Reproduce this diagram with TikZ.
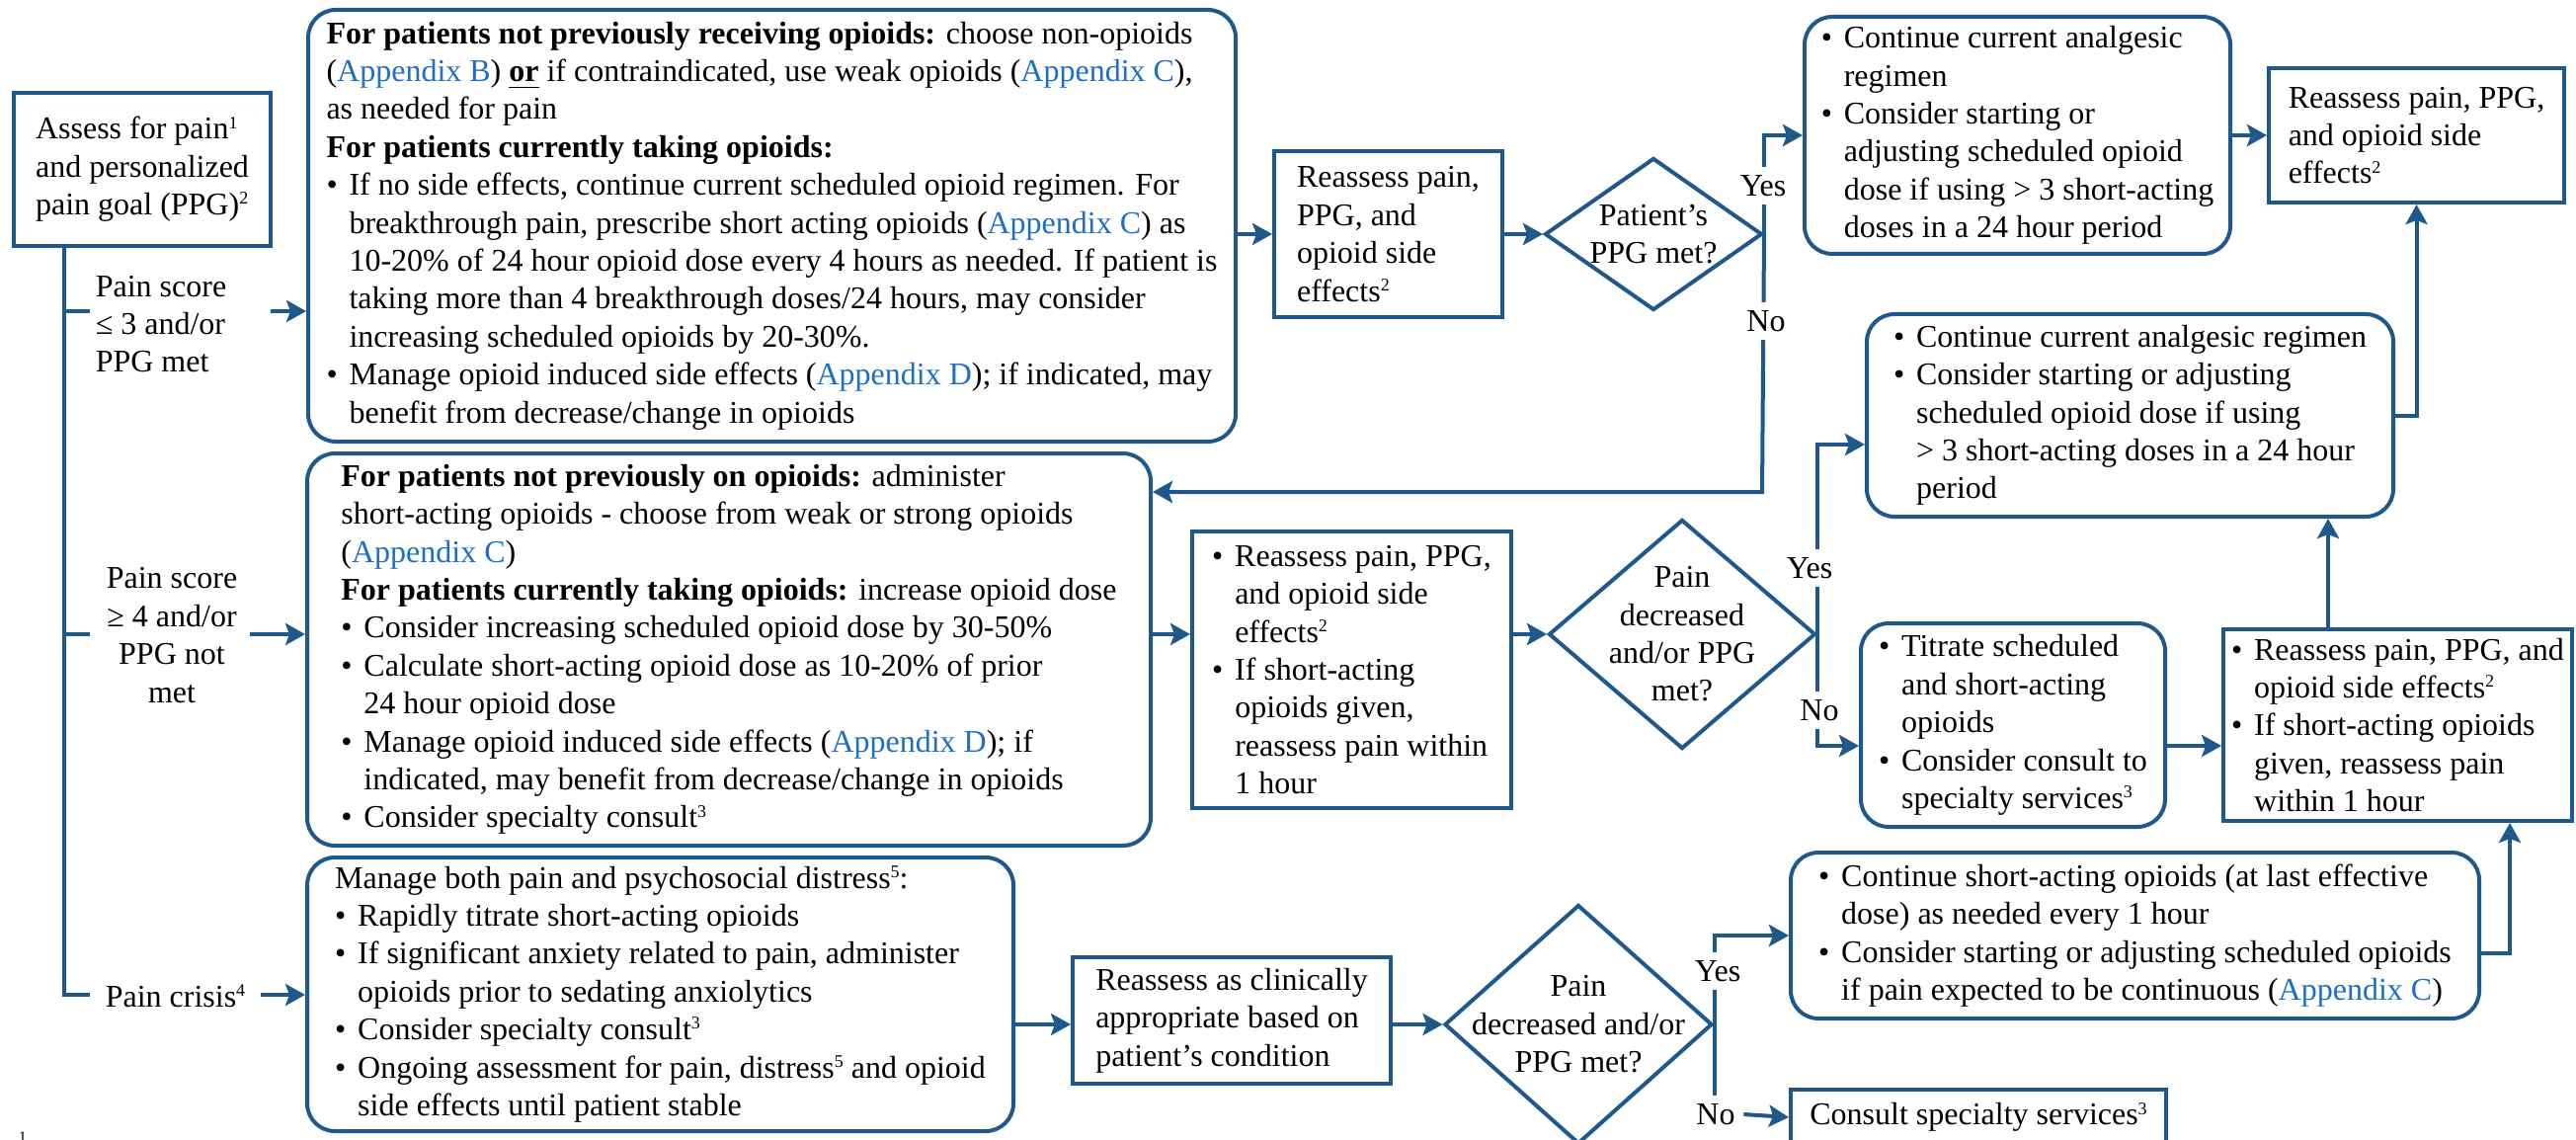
\documentclass[tikz,border=0pt]{standalone}
\usepackage{fontspec}
\setmainfont{Liberation Serif}
\usepackage{tikz}
\usetikzlibrary{arrows.meta,shapes.geometric}
\definecolor{flowblue}{RGB}{31,89,139}
\definecolor{applink}{RGB}{30,110,200}
\tikzstyle{stepbox}=[rectangle, draw=flowblue, line width=1pt, align=left, inner sep=2pt]
\tikzstyle{roundbox}=[stepbox, rounded corners=7pt]
\tikzstyle{decide}=[diamond, draw=flowblue, line width=1pt, inner sep=0pt]
\tikzstyle{flowline}=[draw=flowblue, line width=1pt]
\tikzstyle{flowarrow}=[flowline, -{Stealth[length=5pt,width=5.5pt,inset=1pt]}]
\tikzstyle{branch}=[inner sep=0pt]
\tikzstyle{yesno}=[fill=white, inner sep=2pt]
\newcommand{\stepbox}{\node[stepbox]}
\newcommand{\roundbox}{\node[roundbox]}
\newcommand{\decide}{\node[decide]}
\newcommand{\bitem}{\makebox[0.72em][l]{\textbullet}}
\newcommand{\bcont}{\hspace*{0.72em}}
\newcommand{\appx}[1]{\textcolor{applink}{#1}}
\newcommand{\fnote}[1]{\raisebox{2.7pt}{\fontsize{4.5pt}{4.5pt}\selectfont #1}}

\begin{document}
\begin{tikzpicture}[x=0.25pt, y=-0.25pt
    ,font=\fontsize{8pt}{9.6pt}\selectfont
    ,every edge/.style={flowarrow}
]
\useasboundingbox (0,0) rectangle (2608,1154);

% left column
\stepbox[minimum width=65pt, minimum height=38.75pt] (assess) at (144,171.5)
  {Assess for pain\fnote{1}\\and personalized\\pain goal (PPG)\fnote{2}};
\node[branch, anchor=west, align=left] (low) at (96,328) {Pain score\\≤ 3 and/or\\PPG met};
\node[branch, align=center] (high) at (174,643) {Pain score\\≥ 4 and/or\\PPG not\\met};
\node[branch, anchor=west] (crisis) at (106,1008) {Pain crisis\fnote{4}};
\coordinate (b1) at (65,315);
\coordinate (b2) at (65,642);
\coordinate (b3) at (65,1007);
\coordinate (a1) at (274,315);
\coordinate (a2) at (253,642);
\coordinate (a3) at (264,1007);
\coordinate (n1) at (1784,498);

% row 1: pain score <= 3
\roundbox[minimum width=234.75pt, minimum height=109.25pt] (mild) at (781.5,228.5)
  {\textbf{For patients not previously receiving opioids:} choose non-opioids\\
   (\appx{Appendix B}) \textbf{\underline{or}} if contraindicated, use weak opioids (\appx{Appendix C}),\\
   as needed for pain\\
   \textbf{For patients currently taking opioids:}\\
   \bitem If no side effects, continue current scheduled opioid regimen. For\\
   \bcont breakthrough pain, prescribe short acting opioids (\appx{Appendix C}) as\\
   \bcont 10-20\% of 24 hour opioid dose every 4 hours as needed. If patient is\\
   \bcont taking more than 4 breakthrough doses/24 hours, may consider\\
   \bcont increasing scheduled opioids by 20-30\%.\\
   \bitem Manage opioid induced side effects (\appx{Appendix D}); if indicated, may\\
   \bcont benefit from decrease/change in opioids};
\stepbox[minimum width=57.75pt, minimum height=42pt] (re1) at (1405.5,237)
  {Reassess pain,\\PPG, and\\opioid side\\effects\fnote{2}};
\decide[minimum width=55pt, minimum height=38.5pt,
  label={[align=center]center:Patient’s\\PPG met?}] (d1) at (1674,237) {};
\roundbox[minimum width=107.75pt, minimum height=60pt] (keep1) at (2042.5,137)
  {\bitem Continue current analgesic\\
   \bcont regimen\\
   \bitem Consider starting or\\
   \bcont adjusting scheduled opioid\\
   \bcont dose if using > 3 short-acting\\
   \bcont doses in a 24 hour period};
\stepbox[minimum width=74.75pt, minimum height=34pt] (re2) at (2446.5,137)
  {Reassess pain, PPG,\\and opioid side\\effects\fnote{2}};
\roundbox[minimum width=133.25pt, minimum height=51.25pt] (keep2) at (2156.5,420.5)
  {\bitem Continue current analgesic regimen\\
   \bitem Consider starting or adjusting\\
   \bcont scheduled opioid dose if using\\
   \bcont > 3 short-acting doses in a 24 hour\\
   \bcont period};

% row 2: pain score >= 4
\roundbox[minimum width=213.5pt, minimum height=99.25pt] (severe) at (738,657.5)
  {\textbf{For patients not previously on opioids:} administer\\
   short-acting opioids - choose from weak or strong opioids\\
   (\appx{Appendix C})\\
   \textbf{For patients currently taking opioids:} increase opioid dose\\
   \bitem Consider increasing scheduled opioid dose by 30-50\%\\
   \bitem Calculate short-acting opioid dose as 10-20\% of prior\\
   \bcont 24 hour opioid dose\\
   \bitem Manage opioid induced side effects (\appx{Appendix D}); if\\
   \bcont indicated, may benefit from decrease/change in opioids\\
   \bitem Consider specialty consult\fnote{3}};
\stepbox[minimum width=80.75pt, minimum height=70pt] (re3) at (1368.5,678)
  {\bitem Reassess pain, PPG,\\
   \bcont and opioid side\\
   \bcont effects\fnote{2}\\
   \bitem If short-acting\\
   \bcont opioids given,\\
   \bcont reassess pain within\\
   \bcont 1 hour};
\decide[minimum width=67.5pt, minimum height=58pt,
  label={[align=center]center:Pain\\decreased\\and/or PPG\\met?}] (d2) at (1703,642) {};
\roundbox[minimum width=77pt, minimum height=51.5pt] (titrate) at (2038,734)
  {\bitem Titrate scheduled\\
   \bcont and short-acting\\
   \bcont opioids\\
   \bitem Consider consult to\\
   \bcont specialty services\fnote{3}};
\stepbox[minimum width=87.75pt, minimum height=48.5pt] (re4) at (2427.5,734)
  {\bitem Reassess pain, PPG, and\\
   \bcont opioid side effects\fnote{2}\\
   \bitem If short-acting opioids\\
   \bcont given, reassess pain\\
   \bcont within 1 hour};

% row 3: pain crisis
\roundbox[minimum width=178.75pt, minimum height=69.25pt] (manage) at (668.5,1006.5)
  {Manage both pain and psychosocial distress\fnote{5}:\\
   \bitem Rapidly titrate short-acting opioids\\
   \bitem If significant anxiety related to pain, administer\\
   \bcont opioids prior to sedating anxiolytics\\
   \bitem Consider specialty consult\fnote{3}\\
   \bitem Ongoing assessment for pain, distress\fnote{5} and opioid\\
   \bcont side effects until patient stable};
\stepbox[minimum width=80.5pt, minimum height=32pt] (re5) at (1247,1033)
  {Reassess as clinically\\appropriate based on\\patient’s condition};
\decide[minimum width=67.75pt, minimum height=60.5pt,
  label={[align=center]center:Pain\\decreased and/or\\PPG met?}] (d3) at (1598,1037) {};
\roundbox[minimum width=174.25pt, minimum height=42pt] (cont) at (2161.5,947)
  {\bitem Continue short-acting opioids (at last effective\\
   \bcont dose) as needed every 1 hour\\
   \bitem Consider starting or adjusting scheduled opioids\\
   \bcont if pain expected to be continuous (\appx{Appendix C})};
\stepbox[minimum width=95pt, minimum height=14pt] (consult) at (2003,1131)
  {Consult specialty services\fnote{3}};

% connectors
\draw[flowline] (assess.south -| b1) -- (b3) -- ++(26,0);
\draw[flowline] (b1) -- ++(26,0);
\draw[flowline] (b2) -- ++(26,0);
\path
(a1) edge (a1 -| mild.west)
(a2) edge (a2 -| severe.west)
(a3) edge (a3 -| manage.west)
(mild.east |- re1) edge (re1.west)
(re1.east) edge (d1.west)
(keep1.east) edge (re2.west)
(severe.east |- d2) edge (re3.west |- d2)
(re3.east |- d2) edge (d2.west)
([yshift=-5.25pt]titrate.east) edge ([yshift=-5.25pt]titrate.east -| re4.west)
([xshift=-17.625pt]re4.north) edge ([xshift=-17.625pt]re4.north |- keep2.south)
(manage.east |- d3) edge (re5.west |- d3)
(re5.east |- d3) edge (d3.west)
;
\draw[flowarrow] (d1.east) |- (keep1.west);
\draw[flowarrow] (d1.east) -- (n1) -- (n1 -| severe.east);
\draw[flowarrow] (keep2.east) -| (re2.south);
\draw[flowarrow] (d2.east) |- ([yshift=-7.375pt]keep2.west);
\draw[flowarrow] (d2.east) |- ([yshift=-5.25pt]titrate.west);
\draw[flowarrow] (d3.east) |- (cont.west);
\draw[flowarrow] ([yshift=-4.5pt]cont.east) -| ([xshift=28.375pt]re4.south);

% yes / no
\node[yesno] (yes1) at (1785,188) {Yes};
\node[yesno] (no1) at (1788,325) {No};
\node[yesno] (yes2) at (1832,575) {Yes};
\node[yesno] (no2) at (1842,719) {No};
\node[yesno] (yes3) at (1739,983) {Yes};
\node[yesno] (no3) at (1737,1128) {No};
\draw[flowline] (d3.east) -- (d3.east |- no3.north);
\path (no3.east) edge (consult.west);

\node[branch, font=\fontsize{4pt}{4pt}\selectfont] (fn) at (23,1151) {1};
\end{tikzpicture}
\end{document}
